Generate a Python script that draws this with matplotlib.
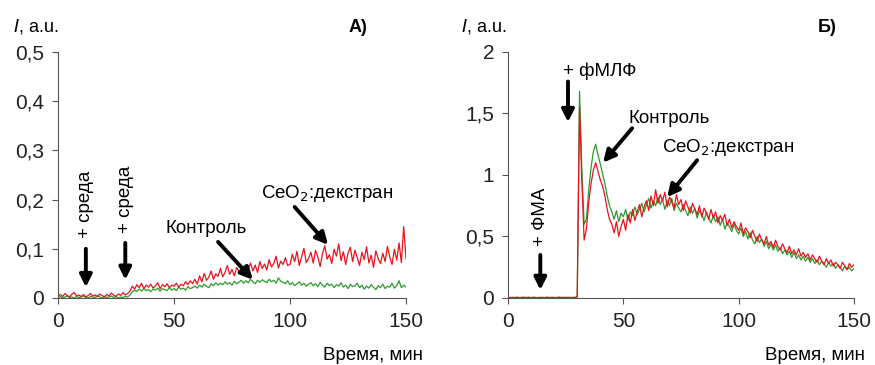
import matplotlib.pyplot as plt
import numpy as np

plt.rcParams['font.family'] = ['Liberation Sans', 'DejaVu Sans']

# время, мин (шаг 1 мин)
t = np.arange(0, 151)

# A) CeO2:декстран (красный) и контроль (зелёный)
a_ceo2 = [0.004, 0.007, 0.003, 0.009, 0.005, 0.002, 0.008, 0.011, 0.004, 0.006,
          0.003, 0.007, 0.002, 0.005, 0.009, 0.004, 0.006, 0.003, 0.008, 0.005,
          0.002, 0.007, 0.004, 0.010, 0.006, 0.003, 0.008, 0.005, 0.011, 0.006,
          0.009, 0.014, 0.024, 0.018, 0.027, 0.021, 0.030, 0.019, 0.026, 0.022,
          0.028, 0.020, 0.025, 0.031, 0.019, 0.027, 0.023, 0.029, 0.021, 0.026,
          0.024, 0.030, 0.022, 0.028, 0.025, 0.033, 0.027, 0.035, 0.029, 0.038,
          0.028, 0.045, 0.033, 0.050, 0.036, 0.042, 0.055, 0.038, 0.049, 0.044,
          0.060, 0.043, 0.052, 0.066, 0.048, 0.058, 0.045, 0.062, 0.054, 0.050,
          0.064, 0.049, 0.058, 0.071, 0.055, 0.067, 0.052, 0.074, 0.060, 0.069,
          0.057, 0.078, 0.063, 0.070, 0.085, 0.061, 0.075, 0.068, 0.082, 0.066,
          0.068, 0.089, 0.074, 0.095, 0.066, 0.084, 0.101, 0.072, 0.080, 0.093,
          0.071, 0.097, 0.083, 0.064, 0.090, 0.106, 0.079, 0.088, 0.070, 0.099,
          0.085, 0.110, 0.076, 0.094, 0.068, 0.091, 0.103, 0.074, 0.097, 0.082,
          0.066, 0.093, 0.078, 0.104, 0.071, 0.087, 0.062, 0.096, 0.080, 0.070,
          0.091, 0.074, 0.105, 0.083, 0.068, 0.099, 0.077, 0.112, 0.072, 0.145,
          0.080]
a_ctrl = [0.001, 0.003, 0.000, 0.002, 0.004, 0.001, 0.002, 0.000, 0.003, 0.001,
          0.002, 0.004, 0.001, 0.000, 0.003, 0.002, 0.001, 0.004, 0.002, 0.000,
          0.003, 0.001, 0.002, 0.004, 0.001, 0.003, 0.000, 0.002, 0.001, 0.003,
          0.002, 0.006, 0.012, 0.016, 0.013, 0.018, 0.014, 0.019, 0.015, 0.017,
          0.013, 0.018, 0.016, 0.020, 0.014, 0.019, 0.017, 0.015, 0.021, 0.016,
          0.019, 0.015, 0.022, 0.018, 0.020, 0.016, 0.023, 0.019, 0.021, 0.024,
          0.020, 0.026, 0.022, 0.028, 0.024, 0.021, 0.029, 0.025, 0.031, 0.026,
          0.030, 0.027, 0.033, 0.028, 0.031, 0.026, 0.034, 0.029, 0.032, 0.036,
          0.030, 0.035, 0.031, 0.038, 0.033, 0.029, 0.036, 0.032, 0.037, 0.034,
          0.031, 0.038, 0.033, 0.036, 0.030, 0.041, 0.034, 0.032, 0.029, 0.035,
          0.027, 0.031, 0.025, 0.029, 0.033, 0.026, 0.030, 0.024, 0.028, 0.031,
          0.025, 0.029, 0.023, 0.032, 0.026, 0.022, 0.030, 0.025, 0.028, 0.021,
          0.027, 0.024, 0.031, 0.022, 0.026, 0.019, 0.028, 0.023, 0.025, 0.030,
          0.021, 0.026, 0.018, 0.024, 0.020, 0.027, 0.022, 0.017, 0.025, 0.021,
          0.028, 0.019, 0.024, 0.022, 0.030, 0.020, 0.025, 0.035, 0.021, 0.026,
          0.022]

# Б) CeO2:декстран (красный) и контроль (зелёный)
b_ceo2 = [0.004, 0.002, 0.006, 0.003, 0.005, 0.002, 0.004, 0.007, 0.003, 0.005,
          0.002, 0.006, 0.004, 0.003, 0.005, 0.002, 0.004, 0.006, 0.003, 0.005,
          0.002, 0.004, 0.007, 0.003, 0.005, 0.002, 0.006, 0.004, 0.003, 0.005,
          0.010, 1.550, 0.950, 0.470, 0.560, 0.780, 0.930, 1.040, 1.100, 1.030,
          0.960, 0.910, 0.830, 0.720, 0.640, 0.600, 0.530, 0.620, 0.500, 0.580,
          0.640, 0.550, 0.680, 0.610, 0.720, 0.630, 0.700, 0.760, 0.660, 0.740,
          0.790, 0.710, 0.830, 0.750, 0.880, 0.770, 0.840, 0.790, 0.860, 0.740,
          0.820, 0.780, 0.730, 0.840, 0.760, 0.800, 0.710, 0.790, 0.740, 0.690,
          0.770, 0.720, 0.680, 0.750, 0.660, 0.730, 0.690, 0.640, 0.720, 0.650,
          0.700, 0.610, 0.670, 0.630, 0.680, 0.590, 0.640, 0.570, 0.620, 0.580,
          0.550, 0.610, 0.520, 0.570, 0.540, 0.490, 0.550, 0.500, 0.460, 0.520,
          0.470, 0.440, 0.500, 0.430, 0.460, 0.410, 0.470, 0.420, 0.390, 0.440,
          0.400, 0.370, 0.420, 0.360, 0.390, 0.350, 0.400, 0.340, 0.370, 0.330,
          0.360, 0.310, 0.350, 0.320, 0.290, 0.340, 0.300, 0.270, 0.320, 0.280,
          0.310, 0.260, 0.290, 0.270, 0.240, 0.290, 0.260, 0.230, 0.280, 0.250,
          0.270]
b_ctrl = [0.003, 0.005, 0.002, 0.004, 0.006, 0.003, 0.005, 0.002, 0.004, 0.006,
          0.003, 0.005, 0.002, 0.004, 0.003, 0.006, 0.002, 0.005, 0.004, 0.003,
          0.006, 0.002, 0.004, 0.005, 0.003, 0.006, 0.002, 0.004, 0.005, 0.003,
          0.008, 1.680, 1.050, 0.600, 0.640, 0.880, 1.060, 1.190, 1.250, 1.160,
          1.090, 1.010, 0.930, 0.830, 0.750, 0.700, 0.640, 0.710, 0.620, 0.690,
          0.660, 0.720, 0.630, 0.700, 0.670, 0.740, 0.680, 0.720, 0.770, 0.700,
          0.760, 0.810, 0.730, 0.790, 0.750, 0.820, 0.760, 0.800, 0.720, 0.790,
          0.750, 0.810, 0.710, 0.770, 0.730, 0.700, 0.760, 0.710, 0.670, 0.740,
          0.690, 0.730, 0.650, 0.710, 0.680, 0.630, 0.700, 0.650, 0.610, 0.670,
          0.620, 0.660, 0.590, 0.640, 0.560, 0.610, 0.580, 0.540, 0.600, 0.550,
          0.520, 0.570, 0.500, 0.540, 0.480, 0.530, 0.470, 0.440, 0.500, 0.450,
          0.480, 0.420, 0.460, 0.400, 0.440, 0.390, 0.430, 0.380, 0.410, 0.360,
          0.390, 0.350, 0.380, 0.330, 0.370, 0.320, 0.350, 0.310, 0.340, 0.300,
          0.330, 0.290, 0.320, 0.280, 0.310, 0.270, 0.300, 0.280, 0.250, 0.290,
          0.260, 0.280, 0.240, 0.270, 0.250, 0.220, 0.260, 0.230, 0.250, 0.220,
          0.240]

red = '#e8141c'
green = '#2e9a2e'

fig = plt.figure(figsize=(8.75, 3.65), dpi=100)
axA = fig.add_axes([0.0663, 0.1836, 0.3977, 0.674])
axB = fig.add_axes([0.5806, 0.1836, 0.3954, 0.674])


def style(ax, ymax, yticks, ylabels):
    ax.set_xlim(0, 150)
    ax.set_ylim(0, ymax)
    ax.set_xticks([0, 50, 100, 150])
    ax.set_yticks(yticks)
    ax.set_yticklabels(ylabels)
    ax.spines['top'].set_visible(False)
    ax.spines['right'].set_visible(False)
    for s in ['left', 'bottom']:
        ax.spines[s].set_color('#555555')
    ax.tick_params(labelsize=15, length=4, color='#555555', pad=6, labelcolor='#222222')


arrow = dict(arrowstyle='-|>', lw=2.8, color='black', mutation_scale=18,
             shrinkA=0, shrinkB=0)
fs = 13.5

# --- A) ---
axA.plot(t, a_ctrl, color=green, lw=0.9)
axA.plot(t, a_ceo2, color=red, lw=0.9)
style(axA, 0.5, [0, 0.1, 0.2, 0.3, 0.4, 0.5], ['0', '0,1', '0,2', '0,3', '0,4', '0,5'])

axA.text(12, 0.19, '+ среда', rotation=90, ha='center', va='center', fontsize=fs)
axA.annotate('', xy=(12, 0.022), xytext=(12, 0.10), arrowprops=arrow)
axA.text(29, 0.20, '+ среда', rotation=90, ha='center', va='center', fontsize=fs)
axA.annotate('', xy=(29, 0.037), xytext=(29, 0.112), arrowprops=arrow)
axA.text(64, 0.142, 'Контроль', ha='center', va='center', fontsize=fs)
axA.annotate('', xy=(84, 0.037), xytext=(69, 0.114), arrowprops=arrow)
axA.text(115.8, 0.213, 'CeO$_2$:декстран', ha='center', va='center', fontsize=fs)
axA.annotate('', xy=(116.4, 0.108), xytext=(102, 0.185), arrowprops=arrow)

fig.text(13 / 875, 1 - 27 / 365, '$\\it{I}$, a.u.', ha='left', va='center', fontsize=13)
fig.text(367 / 875, 1 - 27 / 365, 'А)', ha='right', va='center', fontsize=13, fontweight='bold')
fig.text(423 / 875, 1 - 355 / 365, 'Время, мин', ha='right', va='center', fontsize=fs)

# --- Б) ---
axB.plot(t, b_ctrl, color=green, lw=0.9)
axB.plot(t, b_ceo2, color=red, lw=0.9)
style(axB, 2, [0, 0.5, 1, 1.5, 2], ['0', '0,5', '1', '1,5', '2'])

axB.text(14, 0.66, '+ ФМА', rotation=90, ha='center', va='center', fontsize=fs)
axB.annotate('', xy=(14, 0.065), xytext=(14, 0.35), arrowprops=arrow)
axB.text(23.8, 1.845, '+ фМЛФ', ha='left', va='center', fontsize=fs)
axB.annotate('', xy=(26, 1.43), xytext=(26, 1.76), arrowprops=arrow)
axB.text(70, 1.46, 'Контроль', ha='center', va='center', fontsize=fs)
axB.annotate('', xy=(41.2, 1.10), xytext=(53.8, 1.38), arrowprops=arrow)
axB.text(95.5, 1.22, 'CeO$_2$:декстран', ha='center', va='center', fontsize=fs)
axB.annotate('', xy=(69, 0.82), xytext=(82, 1.12), arrowprops=arrow)

fig.text(461 / 875, 1 - 27 / 365, '$\\it{I}$, a.u.', ha='left', va='center', fontsize=13)
fig.text(837 / 875, 1 - 27 / 365, 'Б)', ha='right', va='center', fontsize=13, fontweight='bold')
fig.text(865 / 875, 1 - 355 / 365, 'Время, мин', ha='right', va='center', fontsize=fs)

fig.savefig('out.png', dpi=100)
